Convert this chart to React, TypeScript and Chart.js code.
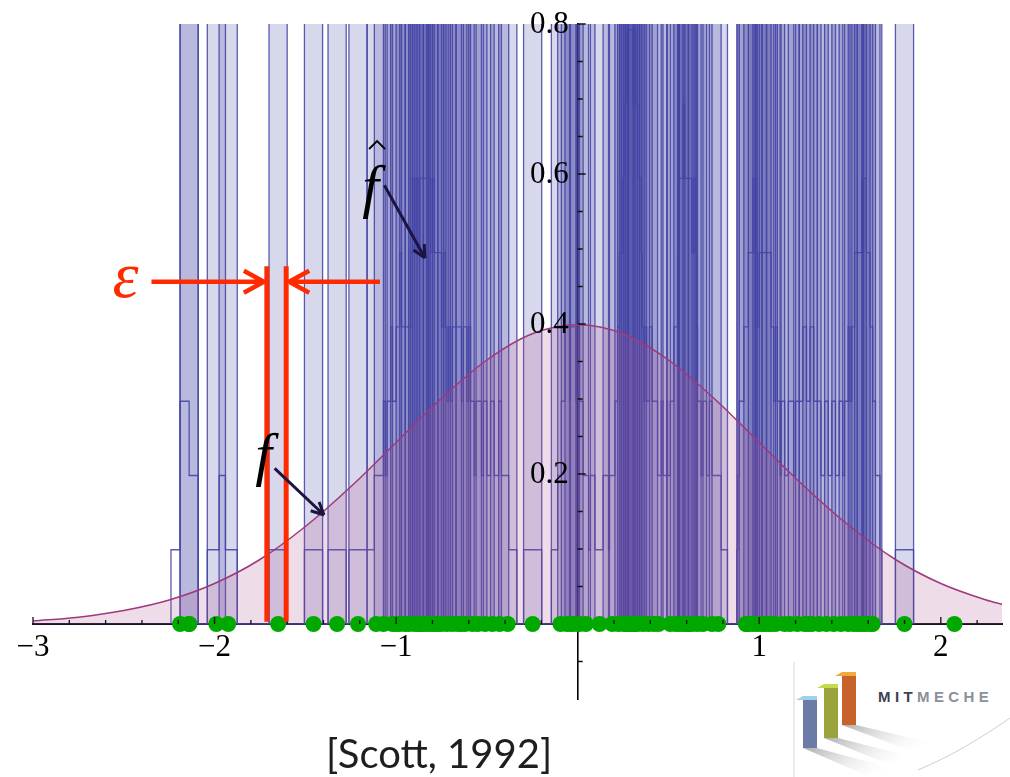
import React, { useEffect, useRef } from 'react';
import { Chart, registerables } from 'chart.js';

Chart.register(...registerables);

// ---- data ----
// sample points x_i (green dots on the axis)
const samplePoints = [
  -2.19, -2.14, -2.14, -1.99, -1.925, -1.65, -1.455, -1.325, -1.21,
  -1.11, -1.07, -1.02, -1.0, -0.98, -0.95, -0.93, -0.9, -0.88, -0.87, -0.86, -0.84, -0.82,
  -0.8, -0.78, -0.77, -0.75, -0.72, -0.69, -0.66, -0.64, -0.62, -0.58, -0.55, -0.51, -0.47,
  -0.43, -0.385,
  -0.248,
  -0.095, -0.06, -0.04, -0.02, 0.01, 0.045, 0.12, 0.19, 0.225, 0.255, 0.27, 0.28, 0.29, 0.3,
  0.305, 0.315, 0.33, 0.36, 0.39, 0.42, 0.445, 0.51, 0.54, 0.56, 0.58, 0.6, 0.605, 0.61, 0.63,
  0.66, 0.69, 0.74, 0.775,
  0.926, 0.932, 0.94, 0.965, 0.99, 1.015, 1.03, 1.05, 1.065, 1.09, 1.14, 1.17, 1.21, 1.25,
  1.27, 1.29, 1.33, 1.37, 1.41, 1.45, 1.49, 1.52, 1.54, 1.56, 1.575, 1.59, 1.615, 1.625,
  1.8, 2.075,
];

// box width epsilon
const epsilon = 0.1;
// range over which the estimate f-hat is drawn, and where its tall columns appear
const estimateRange = [-2.3, 1.9];
const columnRange = [-2.17, 1.9];
const columnTop = 0.85;

// true density f
const curveX = [-3, -2.75, -2.5, -2.25, -2, -1.75, -1.5, -1.25, -1, -0.75, -0.5, -0.25, 0,
  0.25, 0.5, 0.75, 1, 1.25, 1.5, 1.75, 2, 2.25, 2.34];
const curveY = [0.004, 0.009, 0.018, 0.032, 0.054, 0.086, 0.13, 0.183, 0.242, 0.301, 0.352,
  0.387, 0.399, 0.387, 0.352, 0.301, 0.242, 0.183, 0.13, 0.086, 0.054, 0.032, 0.026];

// axes
const xMin = -3;
const xMax = 2.337;
const yMin = -0.1;
const yMax = 0.8;
const xTickValues = [-3, -2, -1, 0, 1, 2];
const xTickLabels = ['\u22123', '\u22122', '\u22121', '', '1', '2'];
const yTickValues = [0.2, 0.4, 0.6, 0.8];
const yTickLabels = ['0.2', '0.4', '0.6', '0.8'];
const xMajorMarks = [-3, -2, -1, 1, 2];
const xMinorMarks = [-2.8, -2.6, -2.4, -2.2, -1.8, -1.6, -1.4, -1.2, -0.8, -0.6, -0.4, -0.2,
  0.2, 0.4, 0.6, 0.8, 1.2, 1.4, 1.6, 1.8, 2.2];
const yMajorMarks = [0.2, 0.4, 0.6, 0.8];
const yMinorMarks = [-0.05, 0.05, 0.1, 0.15, 0.25, 0.3, 0.35, 0.45, 0.5, 0.55, 0.65, 0.7, 0.75];

// ---- derived tables for the library ----
function estimateSteps(points: number[], eps: number) {
  const n = samplePoints.length;
  const edgeSet = new Set<number>();
  points.forEach((p) => {
    edgeSet.add(+(p - eps / 2).toFixed(6));
    edgeSet.add(+(p + eps / 2).toFixed(6));
  });
  const edges = Array.from(edgeSet).sort((a, b) => a - b);
  const out: { x: number; y: number }[] = [{ x: edges[0], y: 0 }];
  for (let i = 0; i < edges.length; i++) {
    let h = 0;
    if (i < edges.length - 1) {
      const mid = (edges[i] + edges[i + 1]) / 2;
      const c = points.filter((p) => Math.abs(mid - p) < eps / 2).length;
      h = c / (n * eps);
    }
    out.push({ x: edges[i], y: h });
  }
  return out;
}

const LINE_BLUE = 'rgba(68,68,165,0.88)';
const FILL_BLUE = 'rgba(60,60,160,0.2)';
const LABEL_FONT = '31px "Liberation Serif"';

const annotationPlugin = {
  id: 'annotations',
  afterDatasetsDraw(chart: any) {
    const { ctx, scales } = chart;
    const x = scales.x;
    const y = scales.y;
    const y0 = y.getPixelForValue(0);
    const x0 = x.getPixelForValue(0);
    ctx.save();
    ctx.strokeStyle = '#111';
    ctx.lineWidth = 1.3;
    ctx.beginPath();
    xMajorMarks.forEach((v) => {
      const px = x.getPixelForValue(v);
      ctx.moveTo(px, y0);
      ctx.lineTo(px, y0 - 7);
    });
    xMinorMarks.forEach((v) => {
      const px = x.getPixelForValue(v);
      ctx.moveTo(px, y0);
      ctx.lineTo(px, y0 - 4);
    });
    yMajorMarks.forEach((v) => {
      const py = y.getPixelForValue(v);
      ctx.moveTo(x0, py);
      ctx.lineTo(x0 + 8, py);
    });
    yMinorMarks.forEach((v) => {
      const py = y.getPixelForValue(v);
      ctx.moveTo(x0, py);
      ctx.lineTo(x0 + 5, py);
    });
    ctx.stroke();
    ctx.restore();
  },
  afterDraw(chart: any) {
    const { ctx, scales } = chart;
    const X = (v: number) => scales.x.getPixelForValue(v);
    const Y = (v: number) => scales.y.getPixelForValue(v);
    ctx.save();

    // y tick labels, left of the axis that crosses at x = 0
    ctx.fillStyle = '#000';
    ctx.font = LABEL_FONT;
    ctx.textAlign = 'right';
    ctx.textBaseline = 'middle';
    yTickValues.forEach((v, i) => {
      ctx.fillText(yTickLabels[i], X(0) - 9, Y(v) + 1);
    });

    // red epsilon markers
    const red = '#ff2a00';
    ctx.strokeStyle = red;
    ctx.fillStyle = red;
    ctx.lineWidth = 5;
    ctx.lineCap = 'butt';
    const l1 = X(-1.712);
    const l2 = X(-1.6055);
    const top = Y(0.477);
    const bot = Y(0.003);
    ctx.beginPath();
    ctx.moveTo(l1, top); ctx.lineTo(l1, bot);
    ctx.moveTo(l2, top); ctx.lineTo(l2, bot);
    ctx.stroke();
    const ay = Y(0.4564);
    ctx.lineWidth = 4.5;
    ctx.beginPath();
    ctx.moveTo(X(-2.3475), ay); ctx.lineTo(l1 - 2, ay);
    ctx.moveTo(l1 - 3, ay); ctx.lineTo(l1 - 23, ay - 11);
    ctx.moveTo(l1 - 3, ay); ctx.lineTo(l1 - 23, ay + 11);
    ctx.moveTo(X(-1.089), ay); ctx.lineTo(l2 + 2, ay);
    ctx.moveTo(l2 + 3, ay); ctx.lineTo(l2 + 23, ay - 11);
    ctx.moveTo(l2 + 3, ay); ctx.lineTo(l2 + 23, ay + 11);
    ctx.stroke();
    ctx.font = 'italic 66px "Liberation Serif"';
    ctx.textAlign = 'center';
    ctx.textBaseline = 'alphabetic';
    ctx.fillText('\u03b5', X(-2.49), Y(0.4564) + 15);

    // f-hat and f labels with arrows
    const navy = '#1c1442';
    ctx.fillStyle = '#000';
    ctx.font = 'italic 60px "Liberation Serif"';
    ctx.fillText('f', X(-1.14), Y(0.557));
    // hat
    const hx = X(-1.105);
    const hy = Y(0.64);
    ctx.strokeStyle = '#000';
    ctx.lineWidth = 1.8;
    ctx.beginPath();
    ctx.moveTo(hx - 8, hy + 5);
    ctx.lineTo(hx, hy - 3);
    ctx.lineTo(hx + 8, hy + 5);
    ctx.stroke();
    ctx.fillText('f', X(-1.73), Y(0.2));

    ctx.strokeStyle = navy;
    ctx.lineWidth = 3;
    const arrow = (xa: number, ya: number, xb: number, yb: number) => {
      const ang = Math.atan2(yb - ya, xb - xa);
      ctx.beginPath();
      ctx.moveTo(xa, ya);
      ctx.lineTo(xb, yb);
      ctx.moveTo(xb, yb);
      ctx.lineTo(xb - 14 * Math.cos(ang - 0.45), yb - 14 * Math.sin(ang - 0.45));
      ctx.moveTo(xb, yb);
      ctx.lineTo(xb - 14 * Math.cos(ang + 0.45), yb - 14 * Math.sin(ang + 0.45));
      ctx.stroke();
    };
    arrow(X(-1.065), Y(0.585), X(-0.841), Y(0.488));
    arrow(X(-1.669), Y(0.2076), X(-1.397), Y(0.1453));

    // citation
    ctx.fillStyle = '#1e1e1e';
    ctx.textAlign = 'left';
    ctx.font = '40px Lato';
    ctx.fillText('[Scott, 1992]', 326, 768);
    ctx.restore();
  },
};

function Logo() {
  return (
    <svg
      width={217}
      height={117}
      viewBox="0 0 217 117"
      style={{ position: 'fixed', left: 793, top: 660 }}
    >
      <defs>
        <linearGradient id="sh" x1="0" y1="0" x2="1" y2="0.3">
          <stop offset="0" stopColor="#8a8a8a" stopOpacity="0.7" />
          <stop offset="1" stopColor="#ffffff" stopOpacity="0" />
        </linearGradient>
      </defs>
      <rect x={0} y={0} width={217} height={117} fill="#fff" />
      <line x1={1} y1={2} x2={1} y2={117} stroke="#d8d8d8" strokeWidth={1} />
      <path d="M 125 110 C 160 95, 185 80, 217 58" fill="none" stroke="#cfcfcf" strokeWidth={1} />
      <polygon points="10,88 24,88 120,114 70,114" fill="url(#sh)" />
      <polygon points="31,78 45,78 140,102 90,102" fill="url(#sh)" />
      <polygon points="49,65 63,65 160,88 110,88" fill="url(#sh)" />
      <rect x={10} y={40} width={14} height={48} fill="#6a7ba6" />
      <polygon points="3,40 10,36 24,36 24,40 10,40" fill="#9fd0ec" />
      <rect x={31} y={28} width={14} height={50} fill="#9ba43c" />
      <polygon points="24,28 31,24 45,24 45,28 31,28" fill="#c7da4a" />
      <rect x={49} y={16} width={14} height={49} fill="#c6622a" />
      <polygon points="42,16 49,12 63,12 63,16 49,16" fill="#f3a93c" />
      <text
        x={85}
        y={42}
        fontFamily="Liberation Sans"
        fontWeight="bold"
        fontSize={15}
        letterSpacing={4.4}
      >
        <tspan fill="#3d4350">MIT</tspan>
        <tspan fill="#8b9099">MECHE</tspan>
      </text>
    </svg>
  );
}

export default function App() {
  const ref = useRef<HTMLCanvasElement | null>(null);
  useEffect(() => {
    if (!ref.current) return;
    const stepPts = samplePoints.filter((p) => p >= estimateRange[0] && p <= estimateRange[1]);
    const colPts = samplePoints.filter((p) => p >= columnRange[0] && p <= columnRange[1]);

    const columnSets = colPts.map((p) => ({
      type: 'line' as const,
      data: [
        { x: p - epsilon / 2, y: 0 },
        { x: p - epsilon / 2, y: columnTop },
        { x: p + epsilon / 2, y: columnTop },
        { x: p + epsilon / 2, y: 0 },
      ],
      borderColor: LINE_BLUE,
      borderWidth: 1.3,
      backgroundColor: FILL_BLUE,
      fill: 'origin',
      pointRadius: 0,
      tension: 0,
      order: 4,
    }));

    const chart = new Chart(ref.current, {
      type: 'line',
      data: {
        datasets: [
          {
            data: samplePoints.map((p) => ({ x: p, y: 0 })),
            showLine: false,
            pointRadius: 8,
            pointBackgroundColor: '#00a800',
            pointBorderWidth: 0,
            pointBorderColor: '#00a800',
            order: 0,
          },
          {
            data: curveX.map((v, i) => ({ x: v, y: curveY[i] })),
            borderColor: '#9e3a7c',
            borderWidth: 1.5,
            backgroundColor: 'rgba(170,80,140,0.2)',
            fill: 'origin',
            pointRadius: 0,
            cubicInterpolationMode: 'monotone',
            order: 1,
          },
          {
            data: estimateSteps(stepPts, epsilon),
            stepped: 'before',
            borderColor: LINE_BLUE,
            borderWidth: 1.3,
            fill: false,
            pointRadius: 0,
            order: 2,
          },
          ...columnSets,
        ] as any,
      },
      options: {
        animation: false,
        responsive: false,
        devicePixelRatio: 1,
        events: [],
        layout: { padding: { left: 33, right: 0, top: 24, bottom: 78 } },
        plugins: { legend: { display: false }, tooltip: { enabled: false } },
        scales: {
          x: {
            type: 'linear',
            min: xMin,
            max: xMax,
            position: { y: 0 } as any,
            afterFit: (s: any) => { s.height = 0; },
            afterBuildTicks: (s: any) => { s.ticks = xTickValues.map((v) => ({ value: v })); },
            grid: { display: false, drawTicks: false },
            border: { display: true, color: '#15152a', width: 2 },
            ticks: {
              autoSkip: false,
              maxRotation: 0,
              padding: 5,
              color: '#000',
              font: { family: 'Liberation Serif', size: 31 },
              callback: (_v: any, i: number) => xTickLabels[i],
            },
          },
          y: {
            type: 'linear',
            min: yMin,
            max: yMax,
            z: 1,
            position: { x: 0 } as any,
            afterFit: (s: any) => { s.width = 0; },
            afterBuildTicks: (s: any) => { s.ticks = yTickValues.map((v) => ({ value: v })); },
            grid: { display: false, drawTicks: false },
            border: { display: true, color: '#000', width: 1.6 },
            ticks: { display: false },
          },
        },
      },
      plugins: [annotationPlugin],
    });
    return () => chart.destroy();
  }, []);

  return (
    <div>
      <canvas
        ref={ref}
        width={1010}
        height={777}
        style={{ position: 'fixed', left: 0, top: 0, width: 1010, height: 777 }}
      />
      <Logo />
    </div>
  );
}
